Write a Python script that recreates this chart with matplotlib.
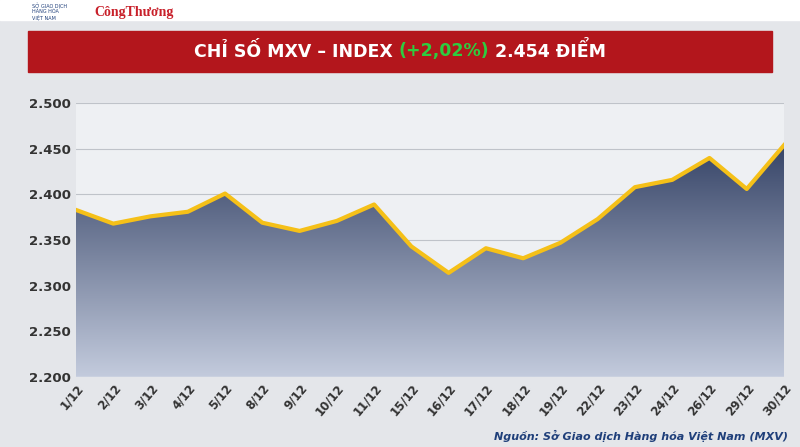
import matplotlib.pyplot as plt
import numpy as np
from matplotlib.colors import LinearSegmentedColormap

dates = ["1/12","2/12","3/12","4/12","5/12","8/12","9/12","10/12","11/12","15/12",
         "16/12","17/12","18/12","19/12","22/12","23/12","24/12","26/12","29/12","30/12"]
values = [2383,2368,2376,2381,2401,2369,2360,2371,2389,2343,
          2314,2341,2330,2347,2373,2408,2416,2440,2406,2454]
yticks = [2200,2250,2300,2350,2400,2450,2500]

fig = plt.figure(figsize=(8,4.47), dpi=100)
fig.patch.set_facecolor('#e4e6ea')
fig.patches.append(plt.Rectangle((0,0.955),1,0.045,transform=fig.transFigure,color='white'))
fig.text(0.04,0.975,"SỞ GIAO DỊCH\nHÀNG HÓA\nVIỆT NAM",fontsize=3.5,color='#1f3f7a',va='center',linespacing=1.0)
fig.text(0.118,0.972,"CôngThương",fontsize=10,color='#c8202a',va='center',family='Liberation Serif',weight='bold')
fig.patches.append(plt.Rectangle((0.035,0.84),0.93,0.09,transform=fig.transFigure,color='#b3161c'))

kw = dict(fontsize=12.5,weight='bold',va='center')
t1 = fig.text(0.29,0.885,"CHỈ SỐ MXV – INDEX ",color='white',**kw)
fig.canvas.draw()
r = fig.canvas.get_renderer()
t2 = fig.text(0,0.885,"(+2,02%)",color='#2ecc40',**kw)
t3 = fig.text(0,0.885," 2.454 ĐIỂM",color='white',**kw)
inv = fig.transFigure.inverted()
w1 = t1.get_window_extent(r).width/fig.bbox.width
w2 = t2.get_window_extent(r).width/fig.bbox.width
w3 = t3.get_window_extent(r).width/fig.bbox.width
x0 = 0.5-(w1+w2+w3)/2
t1.set_x(x0); t2.set_x(x0+w1); t3.set_x(x0+w1+w2)

ax = fig.add_axes([0.095,0.157,0.885,0.612])
ax.set_facecolor('#eef0f3')
x = np.arange(len(dates))
ax.set_xlim(0,len(dates)-1)
ax.set_ylim(2200,2500)
cmap = LinearSegmentedColormap.from_list('g',['#c3cbdd','#1d2c52'])
grad = np.linspace(1,0,256).reshape(-1,1)
im = ax.imshow(grad,extent=[0,len(dates)-1,2200,2500],aspect='auto',cmap=cmap,zorder=1,origin='upper')
poly = ax.fill_between(x,values,2200,color='none')
im.set_clip_path(poly.get_paths()[0], transform=ax.transData)
ax.plot(x,values,color='#f5c018',lw=3,zorder=3)
ax.set_yticks(yticks)
ax.set_yticklabels([f"{v/1000:.3f}" for v in yticks],fontsize=9.5,weight='bold',color='#333333')
ax.set_xticks(x)
ax.set_xticklabels(dates,rotation=50,fontsize=8.5,weight='bold',color='#333333',ha='right',rotation_mode='anchor')
ax.grid(axis='y',color='#bfc3c9',lw=0.8,zorder=0)
ax.set_axisbelow(True)
for s in ax.spines.values(): s.set_visible(False)
ax.tick_params(length=0)
fig.text(0.985,0.015,"Nguồn: Sở Giao dịch Hàng hóa Việt Nam (MXV)",fontsize=8,style='italic',weight='bold',color='#1f3f7a',ha='right')
fig.savefig('out.png',dpi=100,facecolor=fig.get_facecolor())
